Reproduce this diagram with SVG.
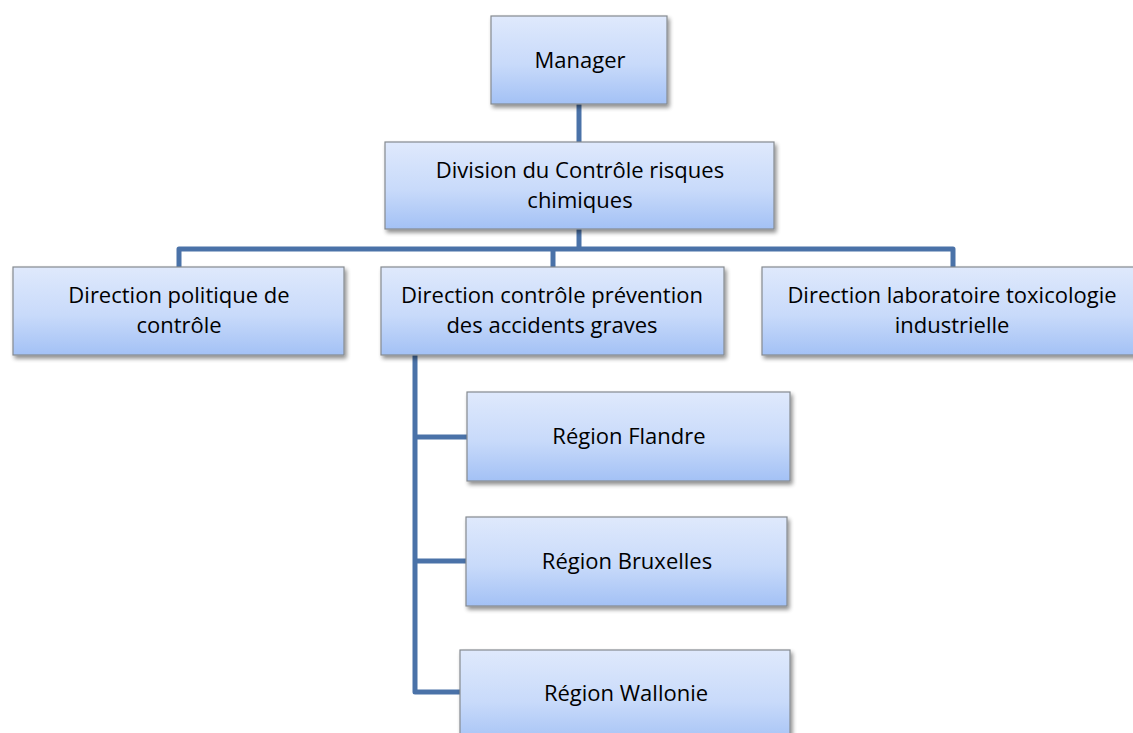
<svg xmlns="http://www.w3.org/2000/svg" width="1133" height="733" viewBox="0 0 1133 733">
<defs>
<linearGradient id="g" x1="0" y1="0" x2="0" y2="1">
<stop offset="0" stop-color="#dfe9fc"/>
<stop offset="0.55" stop-color="#c8dafa"/>
<stop offset="1" stop-color="#a3c1f5"/>
</linearGradient>
<filter id="sh" x="-10%" y="-10%" width="130%" height="140%">
<feGaussianBlur in="SourceAlpha" stdDeviation="2"/>
<feOffset dx="2" dy="3" result="b"/>
<feComponentTransfer><feFuncA type="linear" slope="0.45"/></feComponentTransfer>
<feMerge><feMergeNode/><feMergeNode in="SourceGraphic"/></feMerge>
</filter>
</defs>
<style>
.box{fill:url(#g);stroke:#858a90;stroke-width:1.2;filter:url(#sh)}
.t{font-family:"Open Sans","Liberation Sans",sans-serif;font-size:22px;fill:#000;text-anchor:middle}
.c{fill:none;stroke:#4a72a8;stroke-width:5;stroke-linejoin:round}
</style>
<rect width="1133" height="733" fill="#fff"/>
<g id="connectors">
<path class="c" d="M579 104 V142"/>
<path class="c" d="M579 229 V249"/>
<path class="c" d="M179 267 V249 H953 V267"/>
<path class="c" d="M553 249 V267"/>
<path class="c" d="M415 355 V692 H460"/>
<path class="c" d="M415 437 H467"/>
<path class="c" d="M415 561 H466"/>
</g>
<g id="manager"><rect class="box" x="491" y="16" width="176" height="88"/><text class="t" x="580" y="68">Manager</text></g>
<g id="division"><rect class="box" x="385" y="142" width="389" height="87"/><text class="t" x="580" y="178">Division du Contrôle risques</text><text class="t" x="580" y="208">chimiques</text></g>
<g id="dir-politique"><rect class="box" x="13" y="267" width="331" height="88"/><text class="t" x="179" y="303">Direction politique de</text><text class="t" x="179" y="333">contrôle</text></g>
<g id="dir-prevention"><rect class="box" x="381" y="267" width="343" height="88"/><text class="t" x="552" y="303">Direction contrôle prévention</text><text class="t" x="552" y="333">des accidents graves</text></g>
<g id="dir-labo"><rect class="box" x="762" y="267" width="375" height="88"/><text class="t" x="952" y="303">Direction laboratoire toxicologie</text><text class="t" x="952" y="333">industrielle</text></g>
<g id="flandre"><rect class="box" x="467" y="392" width="323" height="89"/><text class="t" x="629" y="444">Région Flandre</text></g>
<g id="bruxelles"><rect class="box" x="466" y="517" width="321" height="89"/><text class="t" x="627" y="569">Région Bruxelles</text></g>
<g id="wallonie"><rect class="box" x="460" y="650" width="330" height="95"/><text class="t" x="626" y="701">Région Wallonie</text></g>
</svg>
